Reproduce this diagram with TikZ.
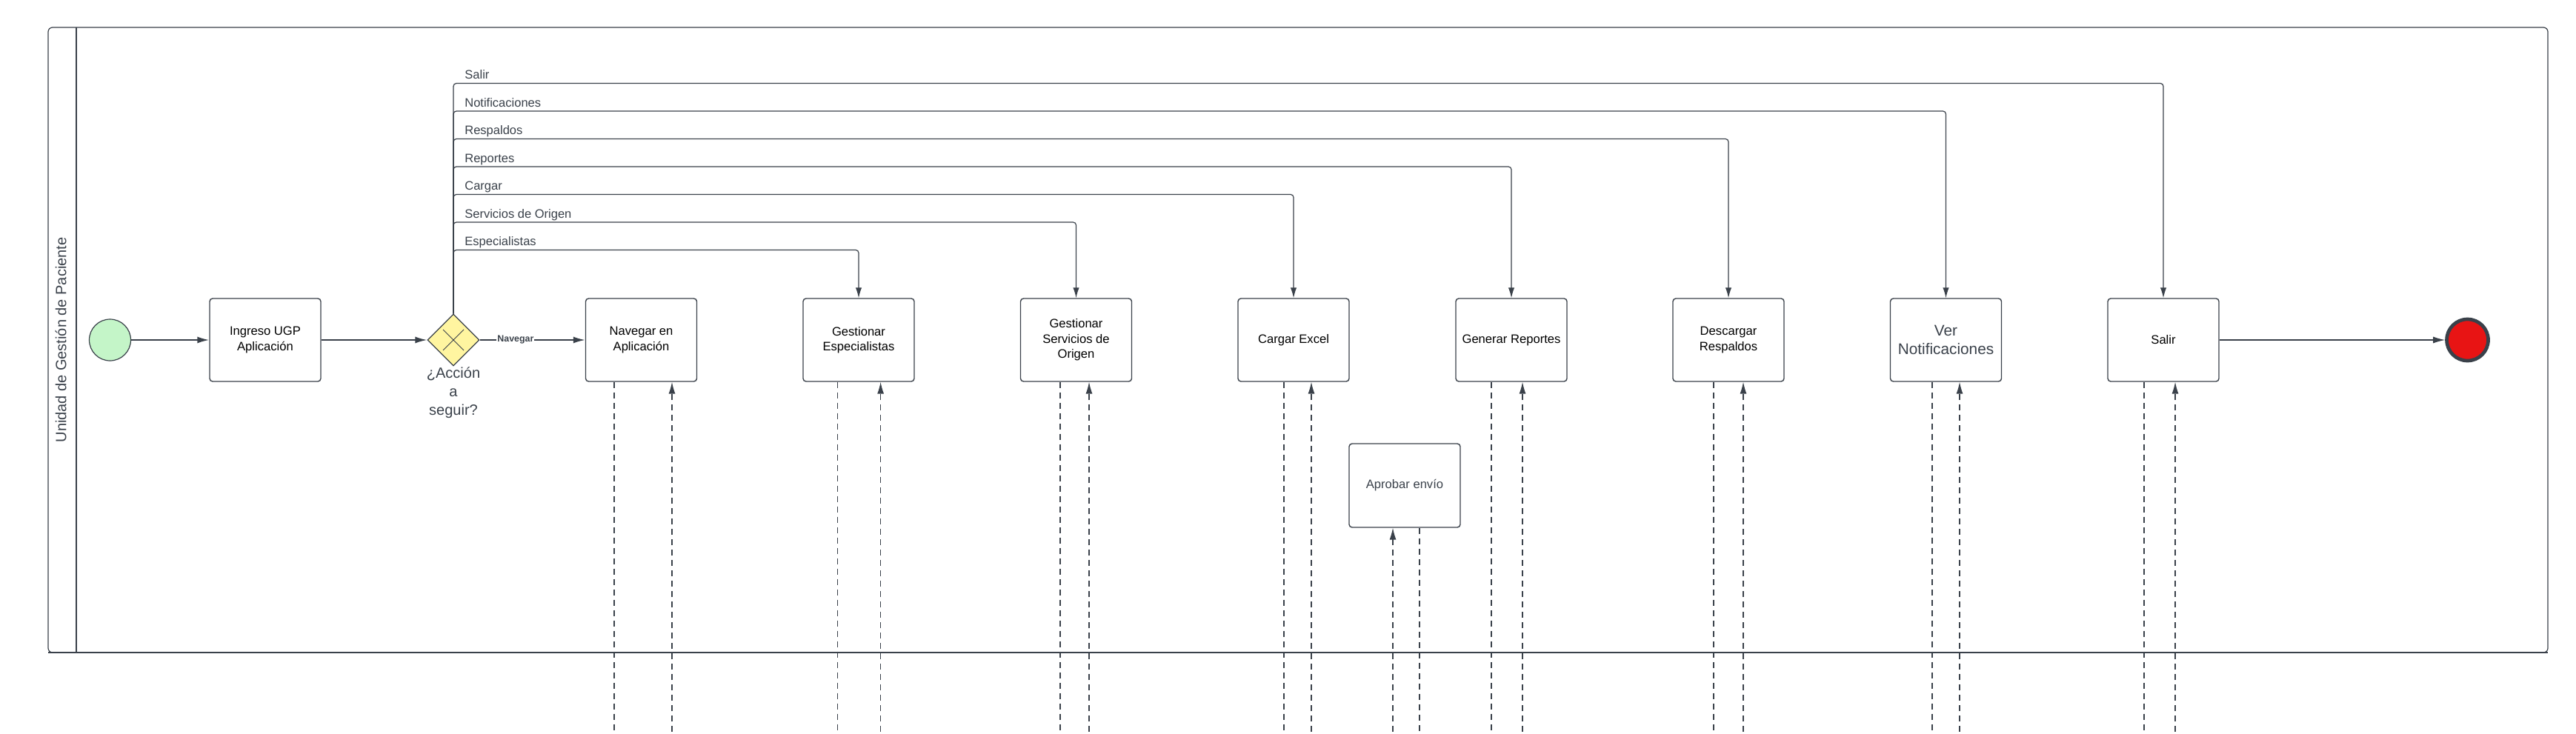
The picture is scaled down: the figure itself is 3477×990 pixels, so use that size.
\documentclass[tikz,border=0pt]{standalone}
\usepackage{fontspec}
\setmainfont{Liberation Sans}
\usetikzlibrary{arrows.meta,shapes.geometric,positioning}

\definecolor{linea}{RGB}{58,65,74}
\definecolor{verdeinicio}{RGB}{196,245,200}
\definecolor{rojofin}{RGB}{232,20,20}
\definecolor{amarillo}{RGB}{255,245,160}

\tikzset{
    tarea/.style={draw=linea, line width=0.7pt, rounded corners=2pt, minimum width=75pt, minimum height=56pt, inner sep=0pt, align=center, font=\fontsize{8.3}{10.2}\selectfont},
    flujo/.style={draw=linea, line width=0.9pt, -{Latex[length=8pt, width=4.5pt]}},
    ruta/.style={draw=linea, line width=0.6pt, rounded corners=2pt, -{Latex[length=7pt, width=4.2pt]}},
    mensaje/.style={draw=linea, line width=0.6pt, dash pattern=on 4pt off 3pt},
    etiqueta/.style={anchor=base west, inner sep=0pt, text=linea, font=\fontsize{8.25}{10}\selectfont}
}

\begin{document}
\begin{tikzpicture}[x=0.5pt, y=-0.5pt]
    \useasboundingbox (0, 0) rectangle (3477, 990);
    \draw[linea, line width=0.6pt, rounded corners=3pt] (65, 37) rectangle (3439, 881);
    \draw[linea, line width=1.1pt] (65, 881) -- (3439, 881);
    \draw[linea, line width=0.6pt] (103, 37) -- (103, 881);
    \node[rotate=90, text=linea, font=\fontsize{10}{12}\selectfont] (carril) at(82, 459) {Unidad de Gestión de Paciente};

    \node[circle, draw=linea, line width=0.6pt, fill=verdeinicio, minimum size=28pt, inner sep=0pt] (inicio) at(148.5, 459) {};
    \node[tarea] (ingreso) at(358, 459) {Ingreso UGP\\Aplicación};
    \node[diamond, draw=linea, line width=0.6pt, fill=amarillo, minimum width=35pt, minimum height=35pt, inner sep=0pt] (accion) at(612, 459) {};
    \draw[linea, line width=0.5pt] (598, 445) -- (626, 473);
    \draw[linea, line width=0.5pt] (626, 445) -- (598, 473);
    \node[below=0.5pt of accion, inner sep=0pt, align=center, text=linea, font=\fontsize{10}{12.5}\selectfont] (pregunta) {¿Acción\\a\\seguir?};

    \node[tarea] (navegar) at(865.5, 459) {Navegar en\\Aplicación};
    \node[tarea] (especialistas) at(1159, 459) {Gestionar\\Especialistas};
    \node[tarea] (servicios) at(1452.5, 459) {Gestionar\\Servicios de\\Origen};
    \node[tarea] (cargar) at(1746, 459) {Cargar Excel};
    \node[tarea] (reportes) at(2040, 459) {Generar Reportes};
    \node[tarea] (respaldos) at(2333, 459) {Descargar\\Respaldos};
    \node[tarea, text=linea, font=\fontsize{10.4}{12.5}\selectfont] (notificaciones) at(2626.5, 459) {Ver\\Notificaciones};
    \node[tarea] (salir) at(2920, 459) {Salir};
    \node[tarea, minimum height=56.5pt, text=linea] (aprobar) at(1896, 655.5) {Aprobar envío};
    \node[circle, draw=linea, line width=2.35pt, fill=rojofin, minimum size=28pt, inner sep=0pt] (fin) at(3330.5, 459) {};

    \draw[flujo] (inicio) -- (ingreso);
    \draw[flujo] (ingreso) -- (accion);
    \draw[flujo] (accion) -- node[pos=0.34, fill=white, inner sep=0.5pt, text=linea, font=\bfseries\fontsize{6.2}{7}\selectfont] {Navegar} (navegar);
    \draw[flujo, line width=0.6pt] (salir) -- (fin);

    \foreach \texto/\y/\nodo in {Salir/112.5/salir, Notificaciones/150/notificaciones, Respaldos/187.5/respaldos, Reportes/225/reportes, Cargar/262.5/cargar, Servicios de Origen/300/servicios, Especialistas/337.5/especialistas} {
        \draw[ruta] (accion.north) |- (\nodo.north |- 0,\y) -- (\nodo.north);
        \node[etiqueta] at(627, \y - 6) {\texto};
    }

    \foreach \nodo/\izq/\der in {navegar/829/907, especialistas/1130.5/1188.6, servicios/1431/1470, cargar/1733/1770, reportes/2013/2055, respaldos/2313/2353, notificaciones/2608/2645, salir/2894/2936} {
        \draw[mensaje] (\izq,0 |- \nodo.south) -- (\izq, 988);
        \draw[mensaje, -{Latex[length=8pt, width=4.5pt]}] (\der, 988) -- (\der,0 |- \nodo.south);
    }
    \draw[mensaje, -{Latex[length=8pt, width=4.5pt]}] (1880, 988) -- (1880,0 |- aprobar.south);
    \draw[mensaje] (1916,0 |- aprobar.south) -- (1916, 988);
\end{tikzpicture}
\end{document}
